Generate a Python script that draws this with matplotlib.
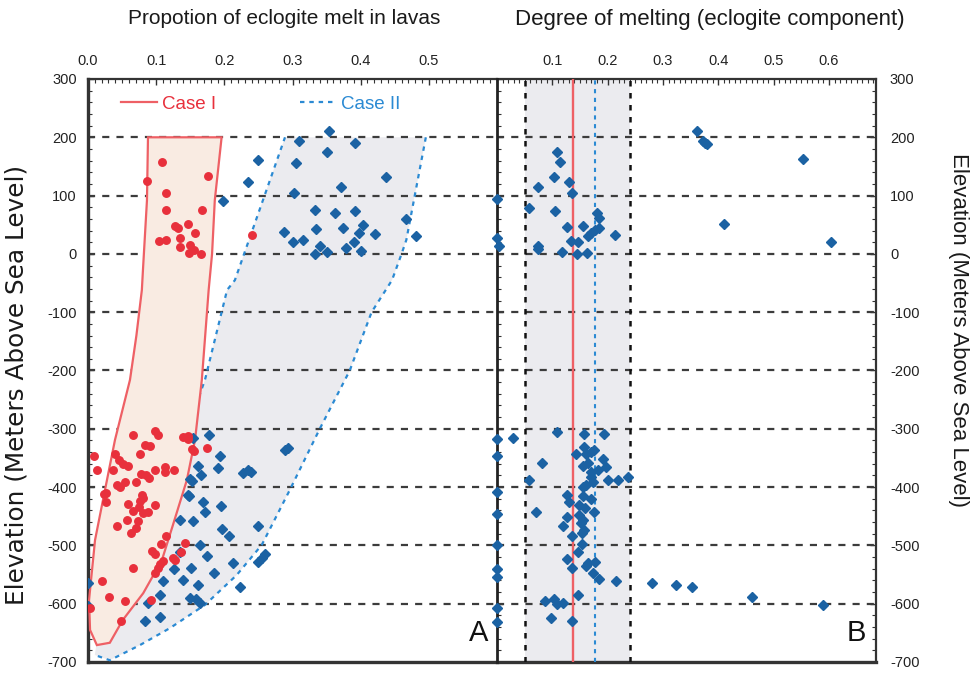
import matplotlib
matplotlib.use("Agg")
import matplotlib.pyplot as plt
from matplotlib.lines import Line2D
from matplotlib.ticker import MultipleLocator, FixedLocator

plt.rcParams["font.family"] = ["Liberation Sans Narrow", "Liberation Sans", "DejaVu Sans"]
plt.rcParams["axes.unicode_minus"] = False

# ---- data ----
# envelope of Case I (red) and Case II (grey) in panel A
case1_x = [0.088, 0.0865, 0.0806, 0.079, 0.071, 0.0616, 0.0396, 0.0249, 0.0103, 0.0015, 0.003, 0.013,
           0.032, 0.051, 0.081, 0.1085, 0.1246, 0.145, 0.157, 0.167, 0.177, 0.182, 0.186, 0.196]
case1_y = [200, 92, -28, -62, -140, -216, -319, -405, -491, -594, -645, -671,
           -667, -628, -582, -525, -465, -388, -319, -216, -62, 0, 92, 200]
case2_x = [0.289, 0.4956, 0.467, 0.46, 0.446, 0.416, 0.384, 0.340, 0.296, 0.255, 0.218, 0.1716,
           0.120, 0.0762, 0.032, 0.010, 0.0176, 0.076, 0.135, 0.1716, 0.204, 0.2155, 0.289]
case2_y = [200, 200, 24, 0, -45, -100, -200, -300, -405, -499, -551, -602,
           -642, -671, -697, -688, -628, -525, -336, -216, -62, -45, 200]

# panel A, red circles
red_x = [0.108, 0.086, 0.176, 0.114, 0.114, 0.167, 0.127, 0.132, 0.147, 0.157, 0.135, 0.104, 0.114,
         0.135, 0.150, 0.155, 0.148, 0.166, 0.241,
         0.009, 0.013, 0.039, 0.046, 0.052, 0.058, 0.066, 0.077, 0.084, 0.091, 0.098, 0.103, 0.037,
         0.078, 0.085, 0.089, 0.099, 0.113, 0.113, 0.126, 0.140, 0.146, 0.147, 0.152, 0.156, 0.174,
         0.042, 0.054, 0.071, 0.047,
         0.024, 0.026, 0.027, 0.079, 0.080, 0.076, 0.059, 0.066, 0.075, 0.081, 0.088, 0.099, 0.043,
         0.057, 0.074, 0.070, 0.063, 0.114, 0.107, 0.094, 0.098, 0.110, 0.106, 0.102, 0.099, 0.128,
         0.124, 0.142, 0.136, 0.066, 0.020, 0.031, 0.054, 0.092, 0.049, 0.003]
red_y = [157, 125, 134, 104, 76, 75, 47, 45, 51, 36, 28, 22, 24,
         11, 16, 7, 2, 0, 32,
         -346, -370, -344, -354, -360, -363, -311, -344, -327, -330, -303, -311, -371,
         -377, -380, -384, -370, -365, -374, -371, -314, -312, -318, -335, -338, -333,
         -396, -392, -392, -399,
         -411, -410, -425, -414, -418, -423, -429, -441, -434, -445, -442, -431, -466,
         -456, -458, -471, -479, -484, -498, -509, -515, -527, -532, -538, -547, -525,
         -522, -496, -512, -538, -561, -589, -596, -594, -630, -608]

# panel A, blue diamonds
blueA_x = [0.354, 0.309, 0.392, 0.351, 0.250, 0.305, 0.235, 0.437, 0.371, 0.302, 0.198, 0.333,
           0.362, 0.392, 0.288, 0.335, 0.374, 0.404, 0.397, 0.421, 0.467, 0.481, 0.301, 0.315,
           0.341, 0.390, 0.378, 0.400, 0.333, 0.350,
           0.178, 0.154, 0.193, 0.162, 0.190, 0.166, 0.150, 0.153, 0.146, 0.148, 0.168, 0.172,
           0.195, 0.135, 0.154, 0.197, 0.207, 0.250, 0.164, 0.175, 0.126, 0.151, 0.213, 0.185,
           0.140, 0.162, 0.223, 0.249, 0.260, 0.255, 0.150, 0.159, 0.164, 0.289, 0.294, 0.228,
           0.234, 0.239, 0.135, 0.110, 0.106, 0.088, 0.084, 0.106, 0.0, 0.0]
blueA_y = [211, 194, 190, 174, 161, 156, 123, 132, 115, 104, 91, 76,
           71, 74, 38, 43, 45, 49, 35, 34, 60, 31, 20, 23,
           14, 20, 10, 5, 0, 3,
           -311, -315, -346, -364, -367, -379, -386, -389, -414, -416, -425, -443,
           -432, -456, -458, -472, -484, -466, -499, -518, -540, -538, -530, -548,
           -559, -568, -572, -528, -514, -522, -591, -592, -599, -336, -333, -375,
           -371, -374, -511, -561, -585, -599, -630, -623, -565, -604]

# panel B, blue diamonds
blueB_x = [0.0, 0.0, 0.004, 0.108, 0.114, 0.103, 0.074, 0.130, 0.136, 0.058, 0.105, 0.126, 0.155,
           0.164, 0.169, 0.178, 0.184, 0.181, 0.184, 0.214, 0.074, 0.074, 0.118, 0.134, 0.147,
           0.144, 0.162, 0.361, 0.372, 0.376, 0.380, 0.553, 0.411, 0.603,
           0.0, 0.0, 0.029, 0.109, 0.158, 0.193, 0.158, 0.176, 0.161, 0.143, 0.169, 0.082, 0.191,
           0.197, 0.155, 0.164, 0.170, 0.182, 0.057, 0.237, 0.218, 0.200,
           0.170, 0.161, 0.173, 0.155, 0.127, 0.130, 0.156, 0.170, 0.149, 0.159, 0.176, 0.070,
           0.126, 0.149, 0.156, 0.120, 0.152, 0.158, 0.153, 0.135, 0.146, 0.153, 0.127, 0.136,
           0.161, 0.165, 0.177, 0.173, 0.185, 0.215, 0.281,
           0.0, 0.0, 0.0, 0.0, 0.0, 0.0, 0.0, 0.086, 0.103, 0.109, 0.120, 0.147, 0.098, 0.136,
           0.324, 0.353, 0.461, 0.589]
blueB_y = [94, 27, 14, 174, 157, 132, 114, 124, 104, 78, 74, 46, 48,
           31, 36, 41, 44, 71, 62, 33, 14, 9, 4, 22, 20,
           0, 2, 211, 194, 191, 189, 163, 52, 20,
           -318, -346, -315, -306, -309, -309, -331, -336, -343, -343, -340, -358, -351,
           -365, -364, -359, -374, -371, -387, -382, -387, -388,
           -382, -396, -392, -400, -414, -425, -415, -421, -431, -436, -442, -442,
           -451, -448, -456, -466, -462, -474, -479, -484, -511, -498, -524, -538,
           -536, -531, -528, -547, -558, -561, -565,
           -408, -446, -499, -541, -555, -608, -632, -595, -592, -601, -598, -585, -624, -629,
           -568, -572, -589, -603]

# panel B reference range and lines
band_B = (0.0507, 0.241)
case1_melt = 0.1377
case2_melt = 0.1775

grid_levels = [200, 100, 0, -100, -200, -300, -400, -500, -600]
y_ticks = [300, 200, 100, 0, -100, -200, -300, -400, -500, -600, -700]
xA_ticks = [0.0, 0.1, 0.2, 0.3, 0.4, 0.5]
xB_ticks = [0.1, 0.2, 0.3, 0.4, 0.5, 0.6]

RED = "#e8303c"
RED_LINE = "#ee6065"
BLUE = "#1b62a3"
BLUE_LINE = "#2b8ad3"
DARK = "#333333"
PLAIN = ["Liberation Sans", "DejaVu Sans"]

fig = plt.figure(figsize=(9.74, 6.73), dpi=100)
W, H = 974, 673
axA = fig.add_axes([88 / W, 1 - 662 / H, 409 / W, 583 / H])
axB = fig.add_axes([497 / W, 1 - 662 / H, 379 / W, 583 / H])

for ax in (axA, axB):
    ax.set_ylim(-700, 300)
    for lv in grid_levels:
        ax.axhline(lv, color="#3c3c3c", lw=1.6, ls=(0, (3.2, 3.2)), zorder=2)
    ax.xaxis.tick_top()
    ax.yaxis.set_major_locator(FixedLocator(y_ticks))
    ax.yaxis.set_minor_locator(MultipleLocator(20))
    ax.tick_params(axis="both", which="both", direction="in", colors=DARK,
                   labelsize=10.5, labelcolor="#222222")
    ax.tick_params(axis="both", which="major", length=4, width=1.0)
    ax.tick_params(axis="both", which="minor", length=3, width=0.8)
    ax.tick_params(axis="x", which="both", top=True, bottom=False, labeltop=True,
                   labelbottom=False, pad=8)
    ax.spines["bottom"].set_linewidth(2.4)
    ax.spines["bottom"].set_color(DARK)
    ax.spines["top"].set_linewidth(1.6)
    ax.spines["top"].set_color(DARK)

# ---- panel A ----
axA.set_xlim(0, 0.6)
axA.xaxis.set_major_locator(FixedLocator(xA_ticks))
axA.xaxis.set_minor_locator(MultipleLocator(0.01))
axA.tick_params(axis="y", which="both", left=True, right=False, labelleft=True, pad=8)
axA.spines["left"].set_linewidth(2.4)
axA.spines["left"].set_color(DARK)
axA.spines["right"].set_visible(False)

axA.fill(case2_x, case2_y, facecolor="#ebebef", edgecolor="none", zorder=1)
axA.plot(case2_x[1:16], case2_y[1:16], color=BLUE_LINE, lw=1.6, ls=(0, (2, 2.2)), zorder=3)
axA.plot(case2_x[18:], case2_y[18:], color=BLUE_LINE, lw=1.6, ls=(0, (2, 2.2)), zorder=3)
axA.fill(case1_x, case1_y, facecolor="#f9ebe2", edgecolor=RED_LINE, lw=1.6, zorder=3)

axA.plot(blueA_x, blueA_y, ls="none", marker="D", ms=5.4, color=BLUE, mec=BLUE, zorder=5)
axA.plot(red_x, red_y, ls="none", marker="o", ms=5.4, color=RED, mec=RED, zorder=6)

handles = [Line2D([], [], color=RED_LINE, lw=1.6),
           Line2D([], [], color=BLUE_LINE, lw=1.6, ls=(0, (2, 2.2)))]
leg = axA.legend(handles, ["Case I", "Case II"], ncol=2, frameon=False, loc="upper left",
                 bbox_to_anchor=(0.04, 1.0), fontsize=13.5, handlelength=1.9,
                 handletextpad=0.3, columnspacing=4.45)
leg.get_texts()[0].set_color(RED)
leg.get_texts()[1].set_color(BLUE_LINE)

axA.text(0.955, 0.025, "A", transform=axA.transAxes, fontsize=21, ha="center", va="bottom",
         family=PLAIN, color="#111111")

# ---- panel B ----
axB.set_xlim(0, 0.685)
axB.xaxis.set_major_locator(FixedLocator(xB_ticks))
axB.xaxis.set_minor_locator(MultipleLocator(0.01))
axB.tick_params(axis="y", which="both", left=True, right=True, labelleft=False,
                labelright=True, pad=10)
axB.spines["left"].set_linewidth(2.0)
axB.spines["left"].set_color("#222222")
axB.spines["left"].set_zorder(4)
axB.spines["right"].set_linewidth(1.6)
axB.spines["right"].set_color(DARK)

axB.axvspan(band_B[0], band_B[1], color="#ebebef", zorder=1, lw=0)
for xb in band_B:
    axB.axvline(xb, color="#111111", lw=1.8, ls=(0, (2.2, 2.6)), zorder=3)
axB.axvline(case1_melt, color=RED_LINE, lw=1.7, zorder=3)
axB.axvline(case2_melt, color=BLUE_LINE, lw=1.5, ls=(0, (2, 2.2)), zorder=3)

axB.plot(blueB_x, blueB_y, ls="none", marker="D", ms=5.4, color=BLUE, mec=BLUE, zorder=5,
         clip_on=False)

axB.text(0.948, 0.025, "B", transform=axB.transAxes, fontsize=21, ha="center", va="bottom",
         family=PLAIN, color="#111111")

# ---- titles / axis labels ----
fig.text(284 / W, 1 - 19 / H, "Propotion of eclogite melt in lavas", ha="center", va="center",
         fontsize=15, color="#1a1a1a")
fig.text(710 / W, 1 - 19 / H, "Degree of melting (eclogite component)", ha="center",
         va="center", fontsize=16, color="#1a1a1a")
fig.text(17 / W, 1 - 385 / H, "Elevation (Meters Above Sea Level)", rotation=90, ha="center",
         va="center", fontsize=17.8, color="#1a1a1a", family=["DejaVu Sans"])
fig.text(958 / W, 1 - 330 / H, "Elevation (Meters Above Sea Level)", rotation=270,
         ha="center", va="center", fontsize=16, color="#1a1a1a", family=PLAIN)

fig.savefig("out.png", dpi=100)
